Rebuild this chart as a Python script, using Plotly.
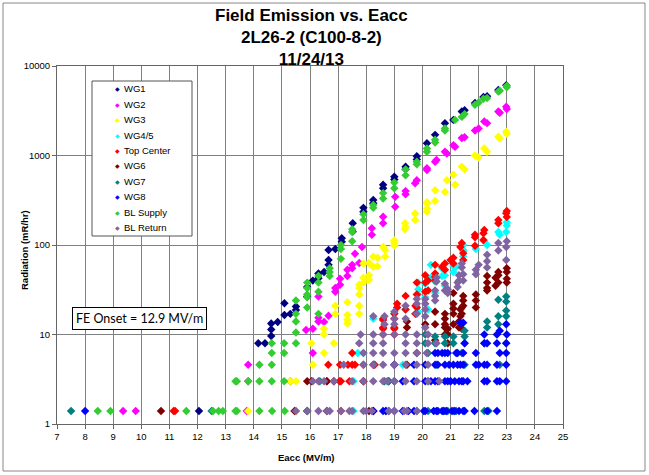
import plotly.graph_objects as go

# ---------------- data (Eacc [MV/m], Radiation [mR/hr]) ----------------
WG1 = [(12.05,1.4),(18.25,1.4),(14.16,8.0),(14.4,8.0),(14.62,13.3),(14.62,11.4),(14.62,9.6),(14.85,13.8),
       (15.09,22.3),(15.09,16.5),(15.3,17),(15.5,20.5),(15.5,18.8),(15.9,34),(15.9,26.5),(16.1,40),
       (16.3,48),(16.3,42.5),(16.5,50),(16.66,68),(16.66,60),(16.66,88),(16.9,90),(17.13,119),(17.13,109),
       (17.52,175),(17.52,141),(17.9,235),(17.9,260),(18.25,318),(18.25,293),(18.6,430),(18.6,470),
       (19.0,580),(19.0,540),(19.4,750),(19.4,700),(19.8,980),(19.8,900),(20.16,1370),(20.45,1700),
       (20.8,2300),(21.1,2500),(21.4,3100),(21.5,3200),(21.87,3850),(22.17,4500),(22.3,4600),(22.7,5400),
       (22.98,6100)]

WG2 = [(9.35,1.4),(9.8,1.4),(13.75,1.4),(13.8,3.0),(13.8,4.6),(15.3,3.0),(15.86,11.2),(16.1,6.2),
       (16.1,11.6),(16.3,14),(16.3,15.4),(16.3,26.5),(16.5,13.8),(16.66,16.2),(16.9,30),(16.9,33),
       (17.07,36),(17.07,42),(17.33,45),(17.33,53),(17.5,55),(17.5,60),(17.6,80),(17.75,63),(17.85,95),
       (18.2,130),(18.2,154),(18.6,175),(18.6,207),(19.03,268),(19.03,345),(19.4,400),(19.4,370),
       (19.74,490),(19.8,530),(20.16,690),(20.16,720),(20.45,850),(20.5,890),(20.8,1100),(20.87,1050),
       (21.1,1300),(21.16,1250),(21.4,1570),(21.5,1600),(21.87,1900),(22.0,2000),(22.2,2400),(22.3,2300),
       (22.7,3100),(22.75,3000),(22.98,3500),(23.0,3300)]

WG3 = [(13.8,1.4),(15.5,1.4),(15.3,3.0),(15.5,3.0),(16.1,4.6),(16.05,8),(16.5,6.2),(16.5,10),(16.5,11.6),
       (16.85,8),(16.9,17),(16.9,21),(17.33,23),(17.33,16.5),(17.33,14.6),(17.33,13.3),(17.75,21),
       (17.75,36),(17.75,33),(17.75,28),(17.75,17),(17.9,43),(17.9,38),(17.9,62),(18.1,41),(18.1,46),
       (18.1,63),(18.25,57),(18.25,74),(18.4,72),(18.4,58),(18.67,88),(18.67,74),(18.6,95),(19.0,98),
       (19.0,112),(19.0,105),(19.38,150),(19.38,175),(19.4,160),(19.74,190),(19.74,225),(20.16,235),
       (20.16,255),(20.16,290),(20.16,300),(20.45,310),(20.45,410),(20.8,390),(20.87,530),(21.1,610),
       (21.16,470),(21.4,750),(21.5,700),(21.87,1000),(22.0,950),(22.2,1200),(22.3,1100),(22.7,1620),
       (22.75,1550),(22.98,1840),(23.0,1750)]

WG45 = [(17.55,1.4),(17.55,3.0),(17.7,6.2),(17.9,6.2),(18.3,4.6),(19.3,4.6),(19.0,3.0),(19.3,3.0),
        (18.25,15),(19.0,17),(19.4,19),(19.75,17),(19.85,18),(19.85,28),(19.85,32),(19.85,38),(20.1,26),
        (20.1,37),(20.2,19),(20.3,43),(20.3,60),(20.45,29),(20.45,39),(20.7,45),(20.7,55),(20.8,35),
        (20.8,46),(21.1,50),(21.1,58),(21.2,57),(21.45,75),(21.45,85),(21.45,88),(21.45,100),(21.9,90),
        (22.2,110),(22.3,100),(22.7,140),(22.75,130),(22.98,140),(23.0,165),(23.0,180)]

TOP_CENTER = [(11.15,1.4),(11.2,1.4),(17.1,1.4),(18.25,1.4),(16.6,3.0),(17.05,3.0),(17.1,3.0),(17.4,3.0),
              (17.9,3.0),(16.65,4.6),(17.07,4.6),(17.35,4.6),(17.5,4.6),(17.6,4.6),(17.9,4.6),(18.25,4.6),
              (18.3,4.6),(17.5,6.2),(18.6,10),(18.6,11.6),(18.6,12),(18.6,14.5),(18.6,15),(19.0,10),
              (19.0,11.6),(19.0,12),(19.0,15),(19.0,17),(19.1,20),(19.1,22),(19.4,19),(19.4,27),(19.75,17),
              (19.75,21),(19.8,20),(19.8,28),(19.8,38),(20.1,30),(20.1,38),(20.1,46),(20.2,31),(20.2,40),
              (20.45,40),(20.45,44),(20.45,48),(20.45,60),(20.7,57),(20.8,53),(20.8,62),(21.0,68),(21.1,62),
              (21.1,72),(21.35,95),(21.45,68),(21.45,81),(21.4,105),(21.87,98),(21.87,122),(21.87,130),
              (22.17,114),(22.17,135),(22.2,147),(22.7,190),(22.7,175),(22.98,226),(23.0,205),(23.0,240)]

WG6 = [(10.7,1.4),(15.45,1.4),(15.9,1.4),(16.6,1.4),(18.1,1.4),(15.9,3.0),(16.05,3.0),(16.6,3.0),
       (16.85,3.0),(17.9,3.0),(18.8,3.0),(19.0,4.6),(19.45,4.6),(19.8,6.2),(19.45,12),(19.45,14),
       (20.1,13),(20.45,8.6),(20.45,13),(20.45,18),(20.8,10),(20.8,12),(20.8,13),(20.8,15),(20.8,17),
       (20.9,8),(20.9,10),(20.9,11.6),(21.1,13),(21.1,17),(21.1,19.5),(21.1,22),(21.1,29),(21.3,12),
       (21.3,14),(21.35,16),(21.35,19),(21.4,11.6),(21.4,17),(21.4,20),(21.45,21),(21.45,24),(21.45,27),
       (21.9,20),(21.9,24),(21.9,28),(22.3,31),(22.3,33),(22.3,38),(22.3,45),(22.6,35),(22.6,43),
       (22.7,38),(22.7,46),(22.7,50),(23.0,38),(23.0,42),(23.0,50),(23.0,55)]

WG7 = [(7.5,1.4),(12.5,1.4),(15.9,1.4),(18.7,1.4),(19.8,1.4),(20.2,1.4),(20.8,1.4),(20.9,1.4),(21.1,1.4),
       (21.2,1.4),(22.2,1.4),(22.35,1.4),(16.35,3.0),(18.65,3.0),(18.8,3.0),(20.2,3.0),(21.0,3.0),
       (21.5,4.6),(20.5,4.6),(22.75,4.6),(20.2,6.2),(21.4,6.2),(20.1,8),(20.45,8),(20.8,8),(21.1,8),
       (21.5,8),(22.2,8),(22.98,8),(20.45,9.5),(20.8,9.5),(21.1,9.5),(21.5,9.5),(20.1,10),(21.5,11),
       (22.3,12),(22.3,14),(22.7,13),(22.7,16),(22.98,16),(22.98,18.5),(22.7,24.5),(22.98,26.6),
       (22.98,23.3)]

WG8 = [(8.0,1.4),(18.25,1.4),(18.6,1.4),(18.7,1.4),(18.8,1.4),(19.0,1.4),(19.3,1.4),(19.5,1.4),(19.7,1.4),
       (20.05,1.4),(20.1,1.4),(20.4,1.4),(20.5,1.4),(20.55,1.4),(20.7,1.4),(20.75,1.4),(20.85,1.4),
       (21.05,1.4),(21.15,1.4),(21.3,1.4),(21.45,1.4),(21.5,1.4),(21.85,1.4),(22.3,1.4),(22.65,1.4),
       (19.0,3.0),(19.3,3.0),(19.7,3.0),(20.1,3.0),(20.3,3.0),(20.45,3.0),(20.55,3.0),(20.8,3.0),
       (20.9,3.0),(21.0,3.0),(21.15,3.0),(21.3,3.0),(21.4,3.0),(21.45,3.0),(21.6,3.0),(22.2,3.0),
       (22.3,3.0),(22.65,3.0),(22.75,3.0),(22.98,3.0),
       (19.0,4.6),(19.7,4.6),(20.1,4.6),(20.45,4.6),(20.55,4.6),(20.8,4.6),(20.95,4.6),(21.1,4.6),
       (21.25,4.6),(21.35,4.6),(21.45,4.6),(21.9,4.6),(22.0,4.6),(22.2,4.6),(22.3,4.6),(22.65,4.6),
       (22.98,4.6),
       (20.45,6.2),(20.55,6.2),(20.7,6.2),(20.8,6.2),(20.9,6.2),(21.2,6.2),(21.25,6.2),(21.45,6.2),
       (21.9,6.2),(22.75,6.2),(22.98,6.2),
       (21.5,8),(22.2,8),(22.3,8),(22.65,8),(22.98,8),(22.2,10),(22.65,10),(23.0,10),
       (21.35,13.5),(21.45,13.5),(22.75,11),(22.98,13)]

BL_SUPPLY = [(8.45,1.4),(8.9,1.4),(11.6,1.4),(12.55,1.4),(12.75,1.4),(12.9,1.4),(13.35,1.4),(13.4,1.4),
             (14.2,1.4),(14.65,1.4),(15.1,1.4),(13.35,3.0),(13.4,3.0),(13.8,3.0),(14.2,3.0),(14.64,3.0),
             (15.08,3.0),(14.2,4.6),(14.64,4.6),(14.64,6.2),(15.08,6.2),(14.64,8),(15.08,8),(15.5,8),
             (15.5,10.5),(15.5,14),(15.5,17),(15.5,24),(15.9,20),(15.9,26),(15.9,28),(15.9,33),(15.9,38),
             (16.3,17),(16.3,30),(16.3,38),(16.3,45),(16.7,45),(16.7,50),(16.7,55),(17.1,70),(17.1,90),
             (17.1,100),(17.5,110),(17.5,140),(17.5,150),(17.9,190),(17.9,220),(18.25,260),(18.25,280),
             (18.6,330),(18.6,380),(19.0,430),(19.0,500),(19.4,600),(19.4,700),(19.8,850),(19.8,800),
             (20.16,1100),(20.16,1200),(20.45,1400),(20.45,1500),(20.8,1900),(20.8,2000),(21.16,2500),
             (21.4,2700),(21.5,2900),(21.87,3700),(22.0,3900),(22.17,4300),(22.3,4400),(22.7,5200),
             (22.75,5300),(23.0,5800),(23.0,6000)]

BL_RETURN = [(15.5,1.4),(15.9,1.4),(16.3,1.4),(16.6,1.4),(16.7,1.4),(17.1,1.4),(17.4,1.4),(17.5,1.4),
             (17.9,1.4),(18.0,1.4),(18.2,1.4),(18.8,1.4),(19.0,1.4),(19.35,1.4),(19.45,1.4),(19.8,1.4),
             (16.1,3.0),(16.3,3.0),(16.5,3.0),(16.85,3.0),(17.5,3.0),(17.9,3.0),(18.25,3.0),(18.6,3.0),
             (18.75,3.0),(19.0,3.0),(19.4,3.0),(19.8,3.0),(20.2,3.0),(20.6,3.0),
             (17.2,4.6),(17.9,4.6),(18.25,4.6),(18.6,4.6),(19.0,4.6),(19.4,4.6),(19.8,4.6),(20.2,4.6),
             (17.9,6.2),(18.25,6.2),(18.6,6.2),(19.0,6.2),(19.4,6.2),(19.8,6.2),(20.15,6.2),
             (17.75,8),(18.25,8),(18.6,8),(19.4,8),(19.8,8),(20.2,8),(20.5,8),
             (17.8,10),(18.25,10),(18.6,10),(19.0,10),(19.4,10),(19.8,10),(20.2,10),
             (18.25,16),(18.65,13),(18.65,16),(19.0,13),(19.0,15),(19.0,18),(19.4,15),(19.4,21),(19.8,17),
             (19.8,22),(19.8,25),(20.1,12),(20.1,16),(20.1,19),(20.1,22),(20.1,25),(20.45,24),(20.45,27),
             (20.45,31),(20.5,39),(20.5,43),(20.8,31),(20.8,37),(20.9,29),(20.9,32),(21.25,34),(21.25,38),
             (21.3,40),(21.3,46),(21.4,56),(21.4,62),(21.45,40),(21.45,47),(21.9,47),(21.9,53),(22.0,60),
             (22.3,56),(22.3,66),(22.3,78),(22.7,87),(22.7,105),(22.98,68),(22.98,95),(23.0,110)]

SERIES_NAMES = ["WG1", "WG2", "WG3", "WG4/5", "Top Center", "WG6", "WG7", "WG8", "BL Supply", "BL Return"]
SERIES_DATA = [WG1, WG2, WG3, WG45, TOP_CENTER, WG6, WG7, WG8, BL_SUPPLY, BL_RETURN]
SERIES_COLORS = ["#000080", "#FF00FF", "#FFFF00", "#00FFFF", "#FF0000",
                 "#800000", "#008080", "#0000FF", "#33CC33", "#8064A2"]

X_TICKS = list(range(7, 26))
Y_TICKS = [1, 10, 100, 1000, 10000]
Y_TICK_TEXT = ["1", "10", "100", "1000", "10000"]

TITLE = "Field Emission vs. Eacc<br>2L26-2 (C100-8-2)<br>11/24/13"
X_TITLE = "Eacc (MV/m)"
Y_TITLE = "Radiation (mR/hr)"
NOTE = "FE Onset = 12.9 MV/m"

# ---------------- figure ----------------
W, H = 649, 475
L, R, T, B = 57, 86, 66, 51
PW, PH = W - L - R, H - T - B

def px_to_paper(px, py):
    return (px - L) / PW, (H - B - py) / PH

FONT = "Liberation Sans, Arial, sans-serif"
fig = go.Figure()
for name, pts, col in zip(SERIES_NAMES, SERIES_DATA, SERIES_COLORS):
    fig.add_trace(go.Scatter(
        x=[p[0] for p in pts], y=[p[1] for p in pts], mode="markers", name=name,
        marker=dict(symbol="diamond", size=6.5, color=col, line=dict(width=0)),
        showlegend=False))

fig.update_layout(
    width=W, height=H, margin=dict(l=L, r=R, t=T, b=B),
    paper_bgcolor="white", plot_bgcolor="white",
    font=dict(family=FONT, size=9, color="black"),
    xaxis=dict(range=[7, 25], tickvals=X_TICKS, showgrid=True, gridcolor="#808080", gridwidth=1,
               showline=True, linecolor="#666666", linewidth=1, mirror=True, ticks="outside",
               ticklen=4, tickcolor="#666666", zeroline=False, tickfont=dict(size=9.5)),
    yaxis=dict(type="log", range=[0, 4], tickvals=Y_TICKS, ticktext=Y_TICK_TEXT, showgrid=True,
               gridcolor="#808080", gridwidth=1, showline=True, linecolor="#666666", linewidth=1,
               mirror=True, ticks="outside", ticklen=4, tickcolor="#666666", zeroline=False,
               tickfont=dict(size=9.5)),
)

def note(text, px, py, size, family=FONT, color="black", **kw):
    x, y = px_to_paper(px, py)
    d = dict(text=text, x=x, y=y, xref="paper", yref="paper", showarrow=False,
             xanchor=kw.pop("xanchor", "center"), yanchor=kw.pop("yanchor", "middle"),
             font=dict(family=family, size=size, color=color, weight=kw.pop("weight", "normal")))
    d.update(kw)
    return d

ann = []
# title
ann.append(note(TITLE, 311, 4, 17, weight="bold", yanchor="top"))
# axis titles
ann.append(note(X_TITLE, 306, 457, 9.5, weight="bold"))
ann.append(note(Y_TITLE, 24, 250, 9.5, weight="bold", textangle=-90))
# FE onset note
ann.append(note(NOTE, 139.7, 318.3, 12.5, family="Lato, Open Sans, sans-serif",
                bgcolor="white", bordercolor="black", borderwidth=1, borderpad=3))

# legend drawn as a boxed list of entries
shapes = []
lx0, ly0 = px_to_paper(92, 236)
lx1, ly1 = px_to_paper(192, 81)
shapes.append(dict(type="rect", xref="paper", yref="paper", x0=lx0, y0=ly0, x1=lx1, y1=ly1,
                   line=dict(color="#555555", width=1), fillcolor="white", layer="above"))
for i, (name, col) in enumerate(zip(SERIES_NAMES, SERIES_COLORS)):
    py = 88.7 + 15.44 * i
    ann.append(note("◆", 117.3, py, 6, family="DejaVu Sans", color=col))
    ann.append(note(name, 121.5, py, 9.5, xanchor="left"))

# outer chart border
bx0, by0 = px_to_paper(3, 471)
bx1, by1 = px_to_paper(645, 3)
shapes.append(dict(type="rect", xref="paper", yref="paper", x0=bx0, y0=by0, x1=bx1, y1=by1,
                   line=dict(color="#888888", width=1), fillcolor="rgba(0,0,0,0)", layer="below"))

fig.update_layout(annotations=ann, shapes=shapes)
fig.write_html("out.html", config={"displayModeBar": False},
               post_script="document.body.style.margin='0px';document.body.style.overflow='hidden';")
